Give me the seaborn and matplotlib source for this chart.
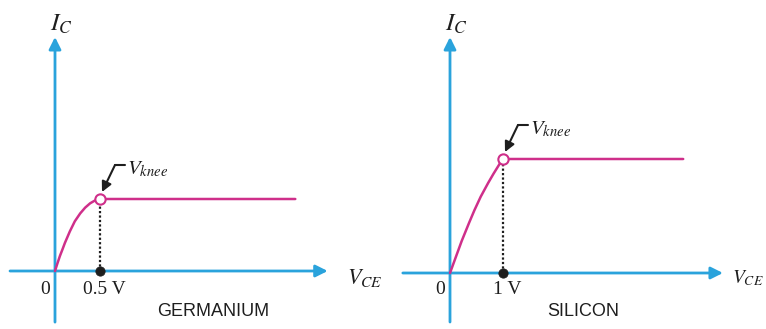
import matplotlib
matplotlib.use("Agg")
import matplotlib.pyplot as plt
import seaborn as sns
import pandas as pd

# ---- data ----
panels = ["GERMANIUM", "SILICON"]
knee_v = [0.5, 1.0]
knee_labels = ["0.5 V", "1 V"]
ge_vce = [0, 0.028, 0.055, 0.083, 0.11, 0.165, 0.22, 0.28, 0.335, 0.39, 0.445, 0.5, 2.67]
ge_ic = [0, 0.11, 0.21, 0.30, 0.39, 0.55, 0.69, 0.80, 0.88, 0.94, 0.98, 1.0, 1.0]
si_vce = [0, 0.11, 0.22, 0.36, 0.46, 0.58, 0.72, 0.82, 0.94, 1.0, 4.4]
si_ic = [0, 0.14, 0.28, 0.44, 0.55, 0.67, 0.79, 0.87, 0.96, 1.0, 1.0]

BLUE = "#2aa3dc"
MAG = "#cf2f8a"
INK = "#1e1e1e"

sns.set_style("white")
plt.rcParams["mathtext.fontset"] = "stix"
serif = ["Liberation Serif", "DejaVu Serif"]
sans = ["Liberation Sans", "DejaVu Sans"]

W, H = 766, 329
fig = plt.figure(figsize=(W / 100, H / 100), dpi=100)

# per panel: pixel origin, px per volt, px per unit current, axis extents (data)
cfg = [
    dict(ox=55, oy=271, sx=90, sy=72, xl=(-0.5, 3.03), yl=(-0.71, 3.25),
         left=0, vce=ge_vce, ic=ge_ic, lab=158, vce_dx=19, vce_fs=16),
    dict(ox=450, oy=273, sx=53, sy=114, xl=(-0.89, 5.15), yl=(-0.43, 2.07),
         left=383, vce=si_vce, ic=si_ic, lab=133, vce_dx=9, vce_fs=14),
]

for i, c in enumerate(cfg):
    ax = fig.add_axes([c["left"] / W, 0, 383 / W, 1])
    # limits so that data maps to reference pixels
    ax.set_xlim((c["left"] - c["ox"]) / c["sx"], (c["left"] + 383 - c["ox"]) / c["sx"])
    ax.set_ylim((c["oy"] - H) / c["sy"], c["oy"] / c["sy"])
    ax.axis("off")

    def P(px, py, c=c):
        return ((px - c["ox"]) / c["sx"], (c["oy"] - py) / c["sy"])

    arrow = dict(arrowstyle="-|>", color=BLUE, lw=2.0, mutation_scale=18,
                 shrinkA=0, shrinkB=0)
    ax.annotate("", xy=(c["xl"][1], 0), xytext=(c["xl"][0], 0), arrowprops=arrow)
    ax.annotate("", xy=(0, c["yl"][1]), xytext=(0, c["yl"][0]), arrowprops=arrow)

    df = pd.DataFrame({"VCE": c["vce"], "IC": c["ic"]})
    sns.lineplot(data=df, x="VCE", y="IC", ax=ax, color=MAG, lw=1.8,
                 sort=False, zorder=4)

    kv = knee_v[i]
    ax.plot([kv, kv], [0, 1.0], color=INK, lw=1.6,
            linestyle=(0, (1, 1)), zorder=3)
    sns.scatterplot(x=[kv], y=[0], ax=ax, color=INK, s=45,
                    edgecolor=INK, zorder=6)
    sns.scatterplot(x=[kv], y=[1.0], ax=ax, color="white", s=55,
                    edgecolor=MAG, linewidth=1.5, zorder=7)

    # texts
    ax.text(*P(c["ox"] - 10, 289), "0", ha="center", va="center",
            fontsize=14, family=serif, color=INK)
    ax.text(kv + 4 / c["sx"], P(0, 289)[1], knee_labels[i], ha="center",
            va="center", fontsize=14, family=serif, color=INK)
    ax.text(*P(c["ox"] + c["lab"], 312), panels[i],
            ha="center", va="center", fontsize=13, family=sans, color=INK)
    ax.text(c["xl"][1] + c["vce_dx"] / c["sx"], P(0, 278)[1], r"$V_{CE}$",
            ha="left", va="center", fontsize=c["vce_fs"], color=INK)
    ax.text(6 / c["sx"], P(0, 24)[1], r"$I_C$", ha="center", va="center",
            fontsize=18, color=INK)

    # V_knee label with bent arrow
    kx, ky = c["ox"] + kv * c["sx"], c["oy"] - c["sy"]
    hx0, hy = kx + 25, ky - 34
    ax.plot([P(hx0, hy)[0], P(hx0 - 10, hy)[0]], [P(hx0, hy)[1]] * 2,
            color=INK, lw=1.5, zorder=5)
    ax.annotate("", xy=P(kx + 2, ky - 7), xytext=P(hx0 - 10, hy),
                arrowprops=dict(arrowstyle="-|>", color=INK, lw=1.5,
                                mutation_scale=15, shrinkA=0, shrinkB=0))
    ax.text(*P(hx0 + 2, hy + 4), r"$V_{knee}$", ha="left", va="center",
            fontsize=15, color=INK)

fig.savefig("out.png", dpi=100)
